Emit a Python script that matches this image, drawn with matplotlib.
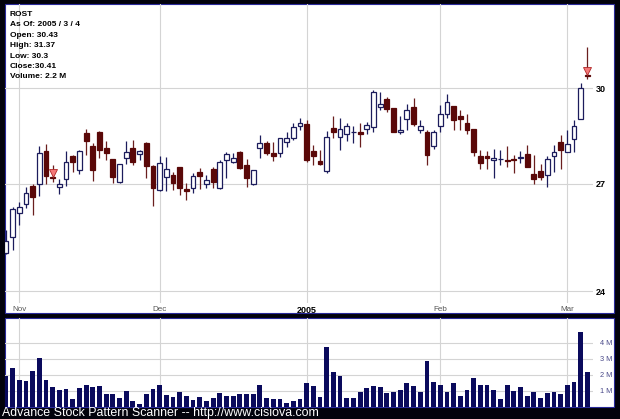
import matplotlib
matplotlib.use('Agg')
import matplotlib.pyplot as plt
from matplotlib.patches import Rectangle
import numpy as np
import pandas as pd


HOLIDAYS = ['2004-11-25', '2004-12-24', '2005-01-17', '2005-02-21']

opens = [25.04, 25.46, 26.15, 26.42, 26.94, 27.00, 28.00, 27.22, 26.90, 27.15,
         27.84, 27.42, 28.54, 28.15, 28.59, 28.08, 27.75, 27.07, 27.79, 28.08,
         27.90, 28.24, 27.55, 26.82, 27.22, 27.27, 27.50, 26.84, 26.87, 27.37,
         26.99, 27.44, 26.88, 27.72, 27.67, 27.96, 27.57, 26.99, 28.10, 28.24,
         27.94, 27.93, 28.27, 28.40, 28.76, 28.83, 28.00, 27.69, 27.40, 28.72,
         28.42, 28.53, 28.58, 28.60, 28.67, 28.73, 29.38, 29.63, 29.34, 28.57,
         29.01, 29.39, 28.64, 28.58, 28.14, 28.77, 29.17, 29.41, 29.09, 28.88,
         28.68, 27.84, 27.84, 27.72, 27.74, 27.73, 27.74, 27.78, 27.90, 27.30,
         27.40, 27.27, 27.83, 28.27, 27.96, 28.36, 29.00, 30.43]
highs = [25.67, 26.33, 26.48, 26.91, 27.00, 28.15, 28.21, 27.57, 27.14, 28.00,
         27.87, 28.03, 28.67, 28.23, 28.62, 28.31, 27.75, 27.60, 28.31, 28.34,
         28.03, 28.27, 27.56, 27.84, 27.82, 27.37, 27.51, 27.02, 27.32, 27.48,
         27.27, 27.50, 27.72, 27.96, 27.92, 28.00, 27.74, 27.43, 28.50, 28.30,
         28.27, 28.40, 28.59, 28.88, 29.02, 28.96, 28.18, 28.03, 28.62, 29.08,
         29.04, 28.86, 28.76, 28.86, 28.90, 29.93, 29.88, 29.70, 29.35, 29.08,
         29.48, 29.68, 28.96, 28.66, 28.66, 29.45, 29.79, 29.42, 29.30, 29.15,
         28.69, 28.01, 27.98, 28.05, 28.03, 28.14, 27.87, 28.00, 28.18, 27.87,
         27.60, 27.84, 28.18, 28.50, 28.66, 28.96, 30.16, 31.37]
lows = [25.00, 25.10, 25.81, 26.29, 26.10, 26.63, 26.99, 27.07, 26.70, 26.95,
        27.37, 27.29, 27.87, 27.09, 27.77, 27.72, 27.04, 27.03, 27.59, 27.57,
        27.72, 27.19, 26.35, 26.80, 26.80, 26.82, 26.68, 26.53, 26.72, 26.85,
        26.87, 26.87, 26.86, 27.19, 27.62, 27.46, 26.92, 26.98, 27.77, 27.87,
        27.69, 27.82, 28.12, 28.34, 28.65, 27.67, 27.57, 27.57, 27.34, 28.39,
        28.03, 28.29, 28.23, 28.12, 28.53, 28.60, 29.28, 29.23, 28.59, 28.53,
        28.65, 28.76, 28.54, 27.57, 28.06, 28.58, 29.04, 28.66, 28.66, 28.52,
        27.85, 27.44, 27.44, 27.19, 27.57, 27.52, 27.33, 27.63, 27.50, 26.99,
        27.12, 26.92, 27.37, 27.44, 27.95, 27.95, 28.99, 30.30]
closes = [25.37, 26.26, 26.32, 26.73, 26.61, 27.92, 27.24, 27.17, 26.99, 27.65,
          27.67, 28.00, 28.31, 27.42, 28.03, 27.93, 27.21, 27.59, 27.95, 27.67,
          27.98, 27.55, 26.88, 27.62, 27.44, 27.04, 26.88, 26.80, 27.25, 27.25,
          27.12, 27.07, 27.66, 27.90, 27.78, 27.47, 27.17, 27.42, 28.25, 27.94,
          27.85, 28.39, 28.39, 28.73, 28.88, 27.72, 27.84, 27.59, 28.43, 28.60,
          28.67, 28.76, 28.60, 28.52, 28.82, 29.88, 29.48, 29.31, 28.60, 28.65,
          29.28, 28.83, 28.76, 27.87, 28.60, 29.17, 29.53, 28.98, 29.01, 28.66,
          27.96, 27.64, 27.79, 27.79, 27.76, 27.69, 27.72, 27.80, 27.50, 27.14,
          27.20, 27.74, 27.97, 28.03, 28.22, 28.76, 29.99, 30.41]
volumes_m = [1.94, 2.42, 1.69, 1.64, 2.27, 3.08, 1.67, 1.23, 1.06, 1.13,
             0.52, 1.17, 1.38, 1.25, 1.33, 0.79, 0.79, 0.54, 1.00, 0.38,
             0.17, 0.79, 1.13, 1.40, 0.75, 0.65, 0.96, 0.69, 0.44, 0.60,
             0.38, 0.54, 0.85, 0.69, 0.69, 0.79, 0.79, 0.79, 1.35, 0.58,
             0.48, 0.50, 0.23, 0.38, 0.48, 1.48, 1.31, 0.65, 3.73, 2.19,
             1.94, 0.58, 0.58, 0.92, 1.21, 1.29, 1.27, 0.88, 0.96, 1.06,
             1.48, 1.29, 0.94, 2.88, 1.56, 1.38, 0.94, 1.48, 0.69, 1.06,
             1.79, 1.35, 1.35, 1.06, 0.50, 1.38, 1.00, 1.25, 0.67, 0.94,
             0.56, 0.85, 0.92, 0.79, 1.40, 1.58, 4.69, 2.19]
signal_days = ['2004-11-08', '2005-03-04']

info_lines = ['ROST', 'As Of: 2005 / 3 / 4', 'Open: 30.43', 'High: 31.37',
              'Low: 30.3', 'Close:30.41', 'Volume: 2.2 M']
price_ticks = [24, 27, 30]
vol_ticks = [1, 2, 3, 4]

UP_EDGE = '#1c1c5c'
DOWN_FILL = '#5a0808'
DOWN_WICK = '#6a1e1e'
VOL_COLOR = '#0a0a5c'
GRID = '#d4d4d4'
BG = '#02020c'
FONT = 'Liberation Sans'

days = pd.bdate_range('2004-10-28', '2005-03-04')
days = days[~days.isin(pd.to_datetime(HOLIDAYS))]
xs = np.arange(len(days)) - 2
o, h, l, c = map(np.array, (opens, highs, lows, closes))
up = c >= o

# first trading day of each month
month_idx = [i for i in range(1, len(days)) if days[i].month != days[i-1].month]
month_labels = ['2005' if days[i].month == 1 else days[i].strftime('%b') for i in month_idx]

fig = plt.figure(figsize=(6.2, 4.19), dpi=100)
fig.patch.set_facecolor(BG)
W, H = 620, 419

fig.patches.append(Rectangle((5/W, 1-313/H), 609/W, 309/H, transform=fig.transFigure,
                             facecolor='white', edgecolor='#2a2a9a', lw=0.8, zorder=-5))
fig.patches.append(Rectangle((5/W, 1-407/H), 609/W, 89/H, transform=fig.transFigure,
                             facecolor='white', edgecolor='#2a2a9a', lw=0.8, zorder=-5))

ax = fig.add_axes([5/W, 1-303/H, 588/W, 299/H])
vax = fig.add_axes([5/W, 1-407/H, 588/W, 89/H])
for a in (ax, vax):
    a.set_facecolor('none')
    for s in a.spines.values():
        s.set_visible(False)
    a.set_xlim(-2.14, 85.85)
    a.set_xticks([xs[i] for i in month_idx])
    a.grid(True, color=GRID, lw=0.8)
    a.set_axisbelow(True)
    a.tick_params(length=0)

# candles
ax.vlines(xs[up], l[up], h[up], color=UP_EDGE, lw=0.9, zorder=2)
ax.vlines(xs[~up], l[~up], h[~up], color=DOWN_WICK, lw=0.9, zorder=2)
ax.bar(xs[up], c[up]-o[up], bottom=o[up], width=0.72, facecolor='white',
       edgecolor=UP_EDGE, lw=0.9, zorder=3)
ax.bar(xs[~up], o[~up]-c[~up], bottom=c[~up], width=0.72, facecolor=DOWN_FILL,
       edgecolor=DOWN_FILL, lw=0.9, zorder=3)

for d in signal_days:
    i = days.get_loc(pd.Timestamp(d))
    top = max(o[i], c[i])
    ax.plot(xs[i], top*np.exp(4.0/911), marker='v', ms=6, mfc='#f47878',
            mec='#b02828', mew=0.6, zorder=4)

ax.set_yscale('log')
ax.set_ylim(23.69, 32.9)
ax.set_yticks(price_ticks)
ax.set_yticklabels([str(t) for t in price_ticks])
ax.yaxis.set_minor_locator(matplotlib.ticker.NullLocator())
ax.yaxis.tick_right()
ax.tick_params(axis='y', pad=2, labelsize=6.5)
for t in ax.get_yticklabels():
    t.set_fontweight('bold')
    t.set_fontfamily(FONT)
ax.set_xticklabels(month_labels)
ax.tick_params(axis='x', pad=2.5, labelsize=5.8, labelcolor='#555555')
for t in ax.get_xticklabels():
    t.set_fontfamily(FONT)
    if t.get_text() == '2005':
        t.set_fontweight('bold')
        t.set_color('black')
        t.set_fontsize(6.5)

for k, line in enumerate(info_lines):
    fig.text(10/W, 1-(14.5+10.4*k)/H, line, fontsize=6, fontweight='bold',
             family=FONT, va='center', ha='left')

# volume
vax.bar(xs, volumes_m, width=0.72, color=VOL_COLOR, zorder=3)
vax.set_ylim(0, 5.56)
vax.set_yticks(vol_ticks)
vax.set_yticklabels(['%d M' % v for v in vol_ticks])
vax.yaxis.tick_right()
vax.tick_params(axis='y', pad=5, labelsize=5.3, labelcolor='#4a4a8a')
vax.set_xticklabels([])
for t in vax.get_yticklabels():
    t.set_fontfamily(FONT)

fig.text(2/W, 1-413/H, 'Advance Stock Pattern Scanner -- http://www.cisiova.com',
         color='white', fontsize=8.9, family=FONT, va='center', ha='left')

fig.savefig('out.png', dpi=100, facecolor=fig.get_facecolor())
